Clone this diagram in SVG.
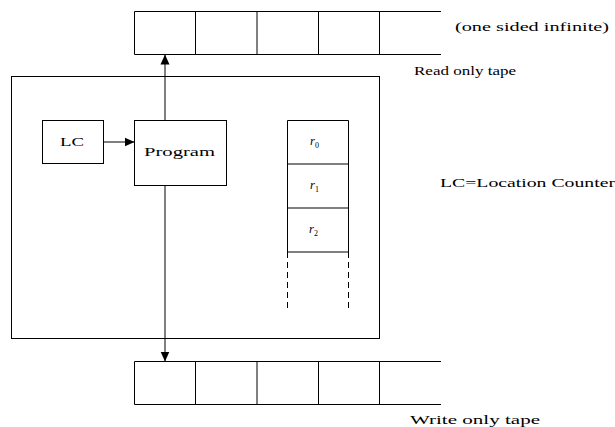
<svg xmlns="http://www.w3.org/2000/svg" width="615" height="427" viewBox="0 0 615 427">
<style>
.ln{fill:none;stroke:#000;stroke-width:1}
.bx{fill:#fff;stroke:#000;stroke-width:1}
text{font-family:'Liberation Serif','Times New Roman',serif;font-size:12.5px;fill:#000}
.it{font-style:italic}
.sub{font-size:8px;font-style:normal}
</style>
<defs>
<marker id="ah" viewBox="0 0 10 10" refX="10" refY="5" markerWidth="10" markerHeight="10" markerUnits="userSpaceOnUse" orient="auto">
<path d="M0,0.5 L10,5 L0,9.5 Z" fill="#000"/>
</marker>
</defs>
<g id="machine">
<rect class="bx" x="11.5" y="76.5" width="368" height="262"/>
</g>
<g id="read-tape">
<path class="ln" d="M441,11.5 H134.5 V54.5 H441 M195.5,11.5 V54.5 M257,11.5 V54.5 M318.5,11.5 V54.5 M379.5,11.5 V54.5"/>
<text x="455" y="31" textLength="154" lengthAdjust="spacingAndGlyphs">(one sided infinite)</text>
<text x="414" y="75" textLength="102" lengthAdjust="spacingAndGlyphs">Read only tape</text>
</g>
<g id="write-tape">
<path class="ln" d="M441,361.5 H134.5 V404.5 H441 M195.5,361.5 V404.5 M257,361.5 V404.5 M318.5,361.5 V404.5 M379.5,361.5 V404.5"/>
<text x="410" y="424" textLength="130" lengthAdjust="spacingAndGlyphs">Write only tape</text>
</g>
<g id="lc">
<rect class="bx" x="42.5" y="120.5" width="61" height="43"/>
<text x="60" y="146" textLength="24" lengthAdjust="spacingAndGlyphs">LC</text>
</g>
<g id="program">
<rect class="bx" x="134.5" y="120.5" width="92" height="65"/>
<text x="144" y="156" textLength="71" lengthAdjust="spacingAndGlyphs">Program</text>
</g>
<g id="registers">
<path class="ln" d="M287.5,120.5 H348.5 M287.5,164 H348.5 M287.5,208 H348.5 M287.5,252 H348.5 M287.5,120.5 V252 M348.5,120.5 V252"/>
<path class="ln" d="M287.5,252 V312 M348.5,252 V312" stroke-dasharray="6,4"/>
<text class="it" x="310" y="145">r<tspan class="sub" dy="3">0</tspan></text>
<text class="it" x="310" y="189">r<tspan class="sub" dy="3">1</tspan></text>
<text class="it" x="309" y="233">r<tspan class="sub" dy="3">2</tspan></text>
</g>
<g id="legend">
<text x="440" y="187" textLength="175" lengthAdjust="spacingAndGlyphs">LC=Location Counter</text>
</g>
<g id="connectors">
<line class="ln" x1="103.5" y1="142" x2="134.5" y2="142" marker-end="url(#ah)"/>
<line class="ln" x1="165" y1="120.5" x2="165" y2="54.5" marker-end="url(#ah)"/>
<line class="ln" x1="165" y1="185.5" x2="165" y2="361.5" marker-end="url(#ah)"/>
</g>
</svg>
